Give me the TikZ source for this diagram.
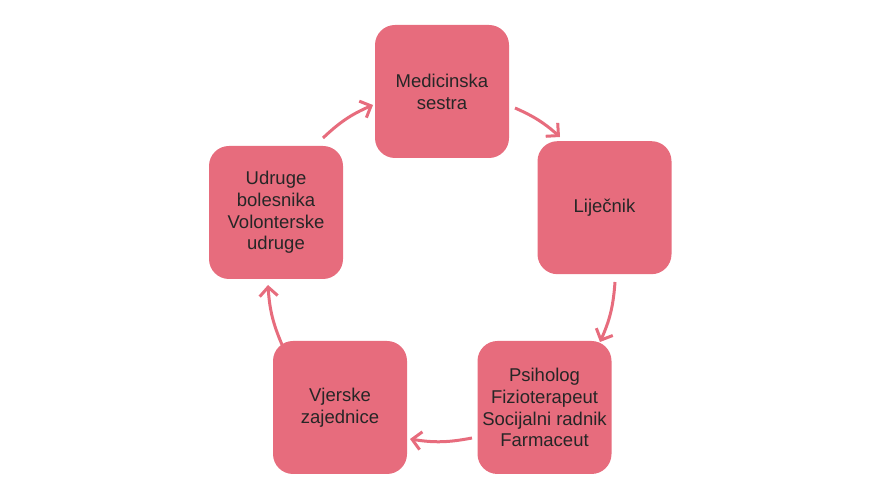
\documentclass[tikz,border=0pt]{standalone}
\usepackage{fontspec}
\setmainfont{Liberation Sans}
\usetikzlibrary{positioning,arrows.meta}
\definecolor{rosebox}{HTML}{E76C7D}
\definecolor{roseline}{HTML}{E76C7D}
\definecolor{inktext}{HTML}{262626}

\begin{document}
\begin{tikzpicture}[
    x=1pt, y=1pt,
    every node/.style={font=\fontsize{18.5}{21.8}\selectfont, text=inktext},
    carebox/.style={rectangle, rounded corners=20pt, fill=rosebox, draw=none,
        minimum width=134pt, minimum height=133pt, inner sep=2pt, align=center},
    cyclearrow/.style={draw=roseline, line width=3pt,
        -{Straight Barb[length=9pt, width=18pt, line width=3pt]}}
]
    \useasboundingbox (0,0) rectangle (880,500);

    % Boxes around the circle
    \node[carebox] (sestra) at (442, 408.5) {Medicinska\\sestra};
    \node[carebox] (lijecnik) at (604.5, 292.3) {Liječnik};
    \node[carebox] (tim) at (544.5, 92.5) {Psiholog\\Fizioterapeut\\Socijalni radnik\\Farmaceut};
    \node[carebox] (vjera) at (340, 92.5) {Vjerske\\zajednice};
    \node[carebox] (udruge) at (276, 287.5) {Udruge\\bolesnika\\Volonterske\\udruge};

    % Arrow ends on the circle
    \coordinate (a1s) at (515, 392);
    \coordinate (a1e) at (560, 363);
    \coordinate (a2s) at (615, 218);
    \coordinate (a2e) at (600, 158);
    \coordinate (a3s) at (472, 62);
    \coordinate (a3e) at (410, 61);
    \coordinate (a4s) at (283, 153);
    \coordinate (a4e) at (268, 215);
    \coordinate (a5s) at (323, 362);
    \coordinate (a5e) at (373, 395);

    % Clockwise arrows
    \draw[cyclearrow] (a1s) to[bend left=9] (a1e);
    \draw[cyclearrow] (a2s) to[bend left=10] (a2e);
    \draw[cyclearrow] (a3s) to[bend left=10] (a3e);
    \draw[cyclearrow] (a4s) to[bend left=10] (a4e);
    \draw[cyclearrow] (a5s) to[bend left=10] (a5e);
\end{tikzpicture}
\end{document}
